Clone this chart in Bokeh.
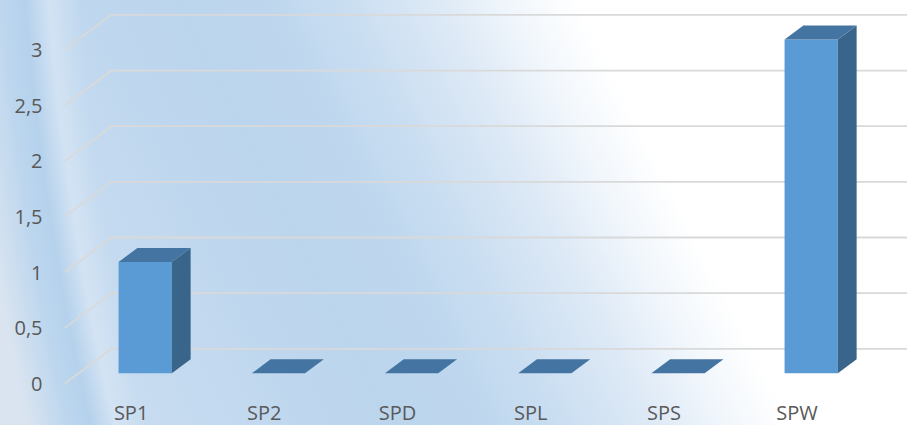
from bokeh.plotting import figure
from bokeh.models import Range1d, FixedTicker, CustomJSTickFormatter
from bokeh.core.properties import value
from bokeh.embed import file_html
from bokeh.resources import INLINE

# ---- data ----
categories = ["SP1", "SP2", "SPD", "SPL", "SPS", "SPW"]
values = [1, 0, 0, 0, 0, 3]
y_ticks = [0, 0.5, 1, 1.5, 2, 2.5, 3]
y_tick_labels = ["0", "0,5", "1", "1,5", "2", "2,5", "3"]

# ---- layout / style constants ----
W, H = 907, 425
LEFT = 64
PX_X = 133.2          # pixels per category
PX_Y = 111.3          # pixels per unit value
ZERO_PX = 383.3       # canvas y of value 0 on the front plane
DEPTH_X = 47 / PX_X   # floor depth, in data units
DEPTH_Y = 35 / PX_Y
BAR_W = 0.4
BAR_D0, BAR_D1 = 0.3, 0.7
LABEL_BASELINE_PX = 29.0   # category label baseline below the front zero line

FONT = "Open Sans"
TEXT_COLOR = "#595959"
GRID_COLOR = "#d9d9d9"
FRONT_COLOR = "#5b9bd5"
SIDE_COLOR = "#386589"
TOP_COLOR = "#4475a2"

x_end = (W - LEFT) / PX_X
y_start = -(H - ZERO_PX) / PX_Y
y_end = ZERO_PX / PX_Y

p = figure(width=W, height=H, output_backend="svg", toolbar_location=None,
           x_range=Range1d(0, x_end), y_range=Range1d(y_start, y_end),
           min_border_left=LEFT, min_border_right=0, min_border_top=0,
           min_border_bottom=0, x_axis_location=None, title=None)

p.background_fill_color = None
p.border_fill_color = None
p.outline_line_color = None
p.grid.visible = False

p.styles = {
    "background": (
        "radial-gradient(circle at 2801px -212px, rgba(255,255,255,0) 0px, "
        "rgba(255,255,255,0) 2730px, rgba(214,229,244,0.8) 2760px, "
        "rgba(180,209,236,0.95) 2784px, rgba(188,214,238,1) 2805px, "
        "rgba(217,228,240,1) 2845px, rgba(222,231,240,1) 3000px), "
        "linear-gradient(63deg, #cde0f2 0%, #c6dbf0 15%, #bbd5ed 35%, "
        "#bed7ee 43%, #c8ddf1 49%, #dde9f6 58%, #f2f7fc 65%, #ffffff 70.5%, "
        "#ffffff 100%)"
    )
}

# ---- gridlines: left wall diagonal + back wall ----
x_far = len(categories) + DEPTH_X
grid_xs = [[0, DEPTH_X, x_far] for _ in y_ticks]
grid_ys = [[v, v + DEPTH_Y, v + DEPTH_Y] for v in y_ticks]
p.multi_line(xs=grid_xs, ys=grid_ys, line_color=GRID_COLOR, line_width=1.8)

# ---- 3D bars ----
centers = [i + 0.5 for i in range(len(categories))]
fx, fy, sx, sy, tx, ty = [], [], [], [], [], []
ddx = (BAR_D1 - BAR_D0) * DEPTH_X
ddy = (BAR_D1 - BAR_D0) * DEPTH_Y
for c, v in zip(centers, values):
    xl = c - BAR_W / 2 + BAR_D0 * DEPTH_X
    xr = c + BAR_W / 2 + BAR_D0 * DEPTH_X
    y0 = BAR_D0 * DEPTH_Y
    y1 = v + BAR_D0 * DEPTH_Y
    fx.append([xl, xr, xr, xl]); fy.append([y0, y0, y1, y1])
    sx.append([xr, xr + ddx, xr + ddx, xr]); sy.append([y0, y0 + ddy, y1 + ddy, y1])
    tx.append([xl, xr, xr + ddx, xl + ddx]); ty.append([y1, y1, y1 + ddy, y1 + ddy])

p.patches(xs=fx, ys=fy, fill_color=FRONT_COLOR, line_color=None)
p.patches(xs=sx, ys=sy, fill_color=SIDE_COLOR, line_color=None)
p.patches(xs=tx, ys=ty, fill_color=TOP_COLOR, line_color=None)

# ---- category labels ----
label_y = -LABEL_BASELINE_PX / PX_Y
p.text(x=centers, y=[label_y] * len(categories), text=categories,
       text_align="center", text_baseline="alphabetic",
       text_font=value(FONT), text_font_size="20px", text_color=TEXT_COLOR)

# ---- value axis ----
ax = p.yaxis[0]
ax.ticker = FixedTicker(ticks=y_ticks)
ax.formatter = CustomJSTickFormatter(
    args=dict(tvals=y_ticks, tlabels=y_tick_labels),
    code="const i = tvals.indexOf(tick); return i < 0 ? '' : tlabels[i];")
ax.axis_line_color = None
ax.major_tick_line_color = None
ax.minor_tick_line_color = None
ax.major_tick_in = 0
ax.major_tick_out = 0
ax.major_label_standoff = 22
ax.major_label_text_font = FONT
ax.major_label_text_font_size = "20px"
ax.major_label_text_color = TEXT_COLOR

open("out.html", "w").write(file_html(p, INLINE))
